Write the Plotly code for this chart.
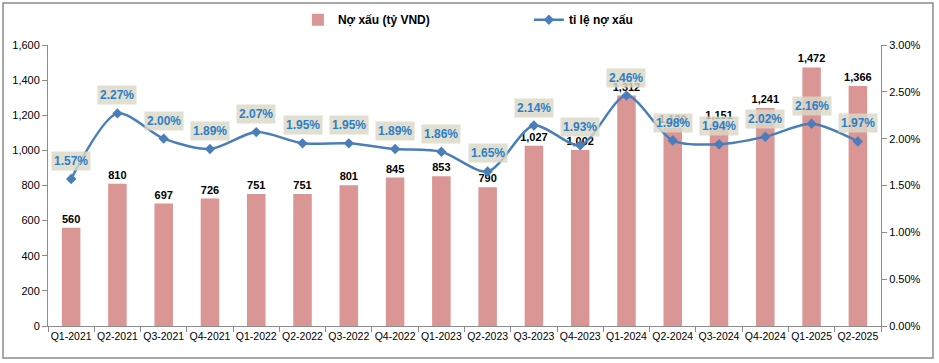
import plotly.graph_objects as go

quarters = ["Q1-2021", "Q2-2021", "Q3-2021", "Q4-2021", "Q1-2022", "Q2-2022", "Q3-2022", "Q4-2022",
            "Q1-2023", "Q2-2023", "Q3-2023", "Q4-2023", "Q1-2024", "Q2-2024", "Q3-2024", "Q4-2024",
            "Q1-2025", "Q2-2025"]
no_xau = [560, 810, 697, 726, 751, 751, 801, 845, 853, 790, 1027, 1002, 1312, 1130, 1151, 1241, 1472, 1366]
ti_le = [1.57, 2.27, 2.00, 1.89, 2.07, 1.95, 1.95, 1.89, 1.86, 1.65, 2.14, 1.93, 2.46, 1.98, 1.94, 2.02, 2.16, 1.97]

FONT = "Liberation Sans"
BAR_COLOR = "#d99694"
LINE_COLOR = "#4a7ebb"

fig = go.Figure()
fig.add_trace(go.Bar(
    x=quarters, y=no_xau, name="Nợ xấu (tỷ VND)",
    marker=dict(color=BAR_COLOR, line=dict(width=0)),
    text=[f"{v:,}" for v in no_xau], textposition="outside",
    textfont=dict(family=FONT, size=11, color="black", weight="bold"),
    cliponaxis=False, constraintext="none",
))
fig.add_trace(go.Scatter(
    x=quarters, y=[v / 100 for v in ti_le], name="tỉ lệ nợ xấu", yaxis="y2",
    mode="lines+markers", line=dict(color=LINE_COLOR, width=2.5, shape="spline", smoothing=0.8),
    marker=dict(symbol="diamond", size=8, color=LINE_COLOR),
))

for q, v in zip(quarters, ti_le):
    fig.add_annotation(
        x=q, y=v / 100, xref="x", yref="y2", text=f"<b>{v:.2f}%</b>",
        showarrow=False, yshift=18, bgcolor="rgba(220,216,198,0.82)", borderpad=2,
        font=dict(family=FONT, size=12, color="#2a7fc9"),
    )

fig.add_shape(type="rect", xref="paper", yref="paper",
              x0=-0.054, x1=1.0624, y0=-0.1139, y1=1.1495,
              line=dict(color="#8c8c8c", width=1.5), fillcolor="rgba(0,0,0,0)", layer="below")

fig.update_layout(
    width=939, height=363,
    margin=dict(l=48, r=58, t=45, b=37, autoexpand=False),
    paper_bgcolor="white", plot_bgcolor="white",
    bargap=0.6,
    font=dict(family=FONT, size=11, color="black"),
    showlegend=True,
    legend=dict(orientation="h", x=0.30, xanchor="left", y=1.09, yanchor="middle",
                font=dict(family=FONT, size=12, color="black", weight="bold"),
                itemwidth=30, entrywidth=186, bgcolor="rgba(0,0,0,0)"),
    xaxis=dict(range=[-0.5, len(quarters) - 0.5], showgrid=False, showline=True,
               linecolor="#8c8c8c", linewidth=1,
               ticks="outside", ticklen=5, tickcolor="#8c8c8c", tickson="boundaries",
               tickangle=0, tickfont=dict(family=FONT, size=10.5, color="black")),
    yaxis=dict(range=[0, 1600], dtick=200, tickformat=",", showgrid=False, zeroline=False,
               showline=True, linecolor="#8c8c8c", linewidth=1, ticks="outside", ticklen=5,
               tickcolor="#8c8c8c", tickfont=dict(family=FONT, size=11, color="black")),
    yaxis2=dict(range=[0, 0.03], dtick=0.005, tickformat=".2%", overlaying="y", side="right",
                showgrid=False, zeroline=False, showline=True, linecolor="#8c8c8c", linewidth=1,
                ticks="outside", ticklen=5, tickcolor="#8c8c8c",
                tickfont=dict(family=FONT, size=11, color="black")),
)

fig.write_html("out.html", config={"displayModeBar": False},
               post_script="document.body.style.margin='0px';document.body.style.overflow='hidden';")
